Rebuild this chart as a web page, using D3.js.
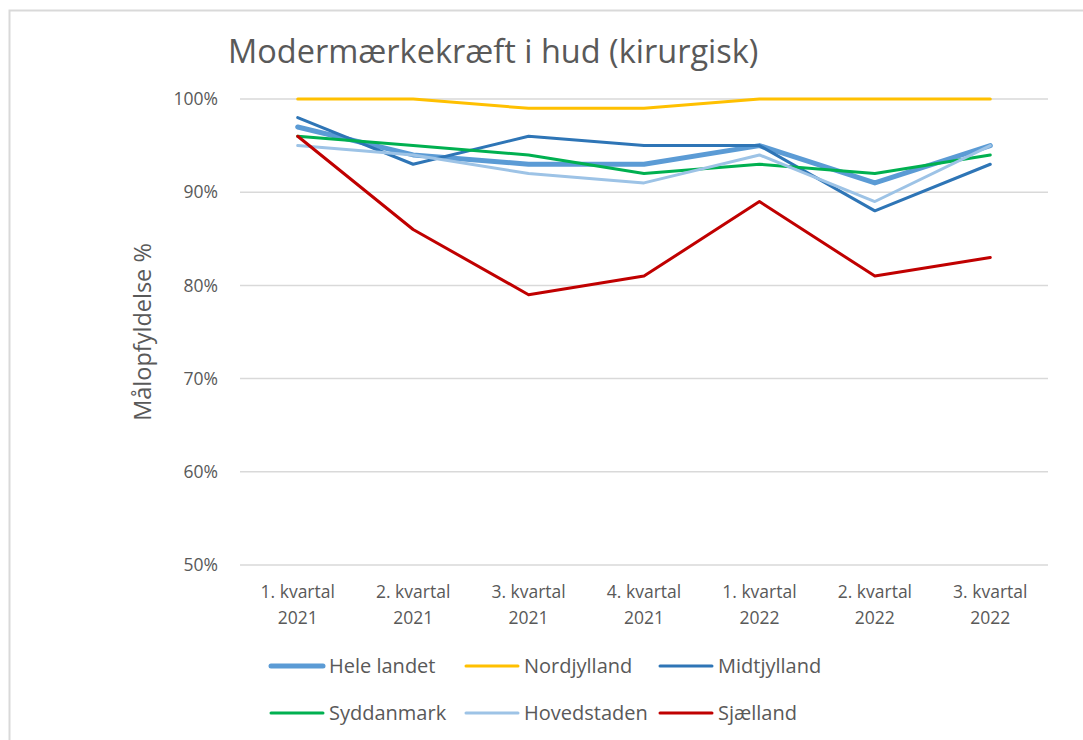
<!DOCTYPE html>
<html>
<head>
<meta charset="utf-8">
<script src="https://cdn.jsdelivr.net/npm/d3@7"></script>
<style>
  body { margin: 0; background: #fff; }
  svg { display: block; font-family: "Open Sans", Lato, sans-serif; }
</style>
</head>
<body>
<svg id="chart"></svg>
<script>
let w = 1083
let h = 740

// quarters, two lines each
let quarters = ["1. kvartal|2021", "2. kvartal|2021", "3. kvartal|2021", "4. kvartal|2021",
                "1. kvartal|2022", "2. kvartal|2022", "3. kvartal|2022"]

let seriesNames = ["Hele landet", "Nordjylland", "Midtjylland", "Syddanmark", "Hovedstaden", "Sjælland"]

let heleLandet  = [97, 94, 93, 93, 95, 91, 95]
let nordjylland = [100, 100, 99, 99, 100, 100, 100]
let midtjylland = [98, 93, 96, 95, 95, 88, 93]
let syddanmark  = [96, 95, 94, 92, 93, 92, 94]
let hovedstaden = [95, 94, 92, 91, 94, 89, 95]
let sjaelland   = [96, 86, 79, 81, 89, 81, 83]

let yTicks = [50, 60, 70, 80, 90, 100]

let colorArr = ["#5b9bd5", "#ffc000", "#2e75b6", "#00b050", "#9dc3e6", "#c00000"]
let widthArr = [5, 3, 3, 3, 3, 3]

let allSeries = [heleLandet, nordjylland, midtjylland, syddanmark, hovedstaden, sjaelland]
  .map((vals, i) => ({ name: seriesNames[i], values: vals, color: colorArr[i], width: widthArr[i] }))

let svg = d3.select('#chart')
  .attr('width', w)
  .attr('height', h)

// chart area border
svg.append('rect')
  .attr('x', 9.5).attr('y', 10.5)
  .attr('width', w + 20).attr('height', h + 20)
  .attr('fill', 'none')
  .attr('stroke', '#d9d9d9')
  .attr('stroke-width', 2)

let plotL = 240, plotR = 1048, plotT = 99, plotB = 565

let x = d3.scaleBand()
  .domain(quarters)
  .range([plotL, plotR])

let y = d3.scaleLinear()
  .domain([50, 100])
  .range([plotB, plotT])

// gridlines
svg.append('g')
  .selectAll('line')
  .data(yTicks)
  .join('line')
  .attr('x1', plotL).attr('x2', plotR)
  .attr('y1', d => y(d)).attr('y2', d => y(d))
  .attr('stroke', '#d9d9d9')
  .attr('stroke-width', 1.5)

// y axis labels
let yAxis = svg.append('g')
  .attr('transform', 'translate(' + (plotL - 22) + ',0)')
  .call(d3.axisLeft(y).tickValues(yTicks).tickFormat(d => d + '%').tickSize(0).tickPadding(0))
yAxis.select('.domain').remove()
yAxis.selectAll('text')
  .attr('fill', '#595959')
  .style('font-size', '17.5px')
  .style('font-family', '"Open Sans", Lato, sans-serif')

// x axis labels
let xAxis = svg.append('g')
  .attr('transform', 'translate(0,' + plotB + ')')
  .call(d3.axisBottom(x).tickSize(0).tickFormat(''))
xAxis.select('.domain').remove()
xAxis.selectAll('.tick')
  .append('text')
  .attr('fill', '#595959')
  .attr('text-anchor', 'middle')
  .style('font-size', '17.5px')
  .style('font-family', '"Open Sans", Lato, sans-serif')
  .selectAll('tspan')
  .data(d => d.split('|'))
  .join('tspan')
  .attr('x', 0)
  .attr('y', (d, i) => 33 + i * 26)
  .text(d => d)

// lines
let line = d3.line()
  .x((d, i) => x(quarters[i]) + x.bandwidth() / 2)
  .y(d => y(d))

svg.append('g')
  .selectAll('path')
  .data(allSeries)
  .join('path')
  .attr('d', d => line(d.values))
  .attr('fill', 'none')
  .attr('stroke', d => d.color)
  .attr('stroke-width', d => d.width)
  .attr('stroke-linecap', 'round')
  .attr('stroke-linejoin', 'round')

// title
svg.append('text')
  .attr('x', 228).attr('y', 63)
  .attr('fill', '#595959')
  .style('font-size', '32.5px')
  .text('Modermærkekræft i hud (kirurgisk)')

// y axis title
svg.append('text')
  .attr('transform', 'translate(151,' + ((plotT + plotB) / 2) + ') rotate(-90)')
  .attr('text-anchor', 'middle')
  .attr('fill', '#595959')
  .style('font-size', '23.5px')
  .text('Målopfyldelse %')

// legend
let legendX = [271, 466, 660]
let legendY = [666, 713]
let legendBlock = svg.append('g')
  .selectAll('g')
  .data(allSeries)
  .join('g')
  .attr('transform', (d, i) => 'translate(' + legendX[i % 3] + ',' + legendY[Math.floor(i / 3)] + ')')

legendBlock.append('line')
  .attr('x1', 0).attr('x2', 52)
  .attr('stroke', d => d.color)
  .attr('stroke-width', d => d.width)
  .attr('stroke-linecap', 'round')

legendBlock.append('text')
  .attr('x', 58).attr('y', 7)
  .attr('fill', '#595959')
  .style('font-size', '20px')
  .text(d => d.name)
</script>
</body>
</html>
